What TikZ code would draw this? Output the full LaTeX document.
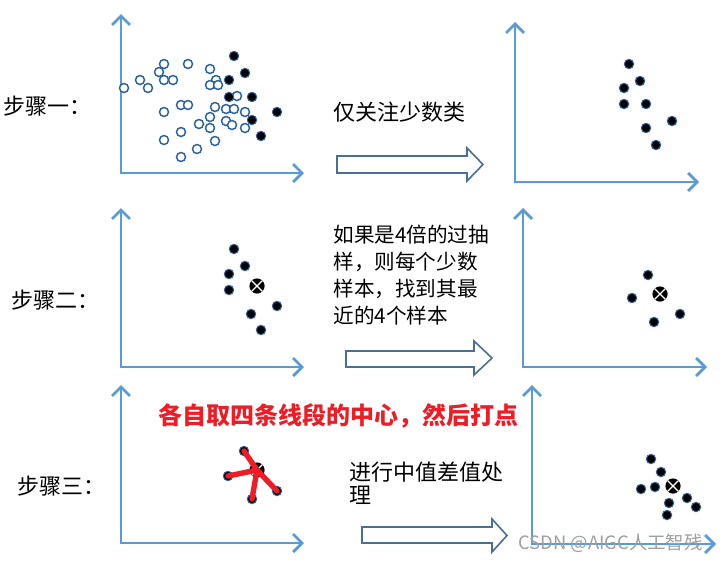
\documentclass[tikz,border=0pt]{standalone}
\usepackage{fontspec}
\setmainfont{Noto Sans CJK SC}
\usetikzlibrary{arrows.meta}
\definecolor{axisblue}{RGB}{91,155,213}
\definecolor{ringblue}{RGB}{46,100,160}
\definecolor{arrowblue}{RGB}{74,110,150}
\definecolor{redtxt}{RGB}{238,28,36}
\tikzset{
  axis/.style={draw=axisblue,line width=1.4pt,{Straight Barb[length=4.5pt,width=9pt]}-{Straight Barb[length=4.5pt,width=9pt]}},
  odot/.style={circle,draw=ringblue,fill=white,line width=0.75pt,minimum size=4.5pt,inner sep=0pt},
  fdot/.style={circle,draw=ringblue,fill=black,line width=0.5pt,minimum size=4.7pt,inner sep=0pt},
  xdot/.style={circle,fill=black,minimum size=7.6pt,inner sep=0pt,
     path picture={\draw[white,line width=0.6pt] (path picture bounding box.north west)--(path picture bounding box.south east)
       (path picture bounding box.north east)--(path picture bounding box.south west);}},
  blockarrow/.style={draw=arrowblue,fill=white,line width=0.8pt,line join=miter},
  steplbl/.style={anchor=west,font=\fontsize{11}{13}\selectfont,inner sep=0pt},
  bodytxt/.style={anchor=west,align=left,inner sep=0pt},
  redline/.style={draw=redtxt,line width=2.7pt,line cap=round},
}
\begin{document}
\begin{tikzpicture}[x=0.5pt,y=-0.5pt]
\useasboundingbox (0,0) rectangle (726,563);
% ---------------- panel 1
\coordinate (a1t) at (121,14); \coordinate (a1o) at (121,173); \coordinate (a1r) at (304,173);
\draw[axis] (a1t) -- (a1o) -- (a1r);
\foreach \x/\y [count=\i] in {124/88,140/80,148/88,159/72,164/64,164/80,173/80,188/64,210/69,216/80,210/85,218/85,237/96,181/105,188/105,164/112,215/107,226/109,234/109,245/112,210/117,199/124,226/121,232/125,210/128,245/128,181/132,164/140,215/141,197/149,181/157}
  \node[odot] (o\i) at (\x,\y) {};
\foreach \x/\y [count=\i] in {234/56,245/73,229/80,229/97,252/97,277/112,252/120,261/136}
  \node[fdot] (f\i) at (\x,\y) {};
% ---------------- panel 2
\coordinate (a2t) at (515,22); \coordinate (a2o) at (515,182); \coordinate (a2r) at (699,182);
\draw[axis] (a2t) -- (a2o) -- (a2r);
\foreach \x/\y [count=\i] in {629/64,640/81,624/88,624/104,646/104,672/121,646/128,656/145}
  \node[fdot] (g\i) at (\x,\y) {};
% ---------------- panel 3
\coordinate (a3t) at (121,208); \coordinate (a3o) at (121,367); \coordinate (a3r) at (304,367);
\draw[axis] (a3t) -- (a3o) -- (a3r);
\foreach \x/\y [count=\i] in {234/249,245/266,229/274,229/290,277/306,251/314,261/330}
  \node[fdot] (h\i) at (\x,\y) {};
\node[xdot] (hx) at (257,286) {};
% ---------------- panel 4
\coordinate (a4t) at (523,208); \coordinate (a4o) at (523,367); \coordinate (a4r) at (707,367);
\draw[axis] (a4t) -- (a4o) -- (a4r);
\foreach \x/\y [count=\i] in {648/275,632/298,680/314,654/322}
  \node[fdot] (k\i) at (\x,\y) {};
\node[xdot] (kx) at (660,294) {};
% ---------------- panel 5
\coordinate (a5t) at (121,385); \coordinate (a5o) at (121,543); \coordinate (a5r) at (304,543);
\draw[axis] (a5t) -- (a5o) -- (a5r);
\foreach \x/\y [count=\i] in {244/451,228/476,277/491,252/499}
  \node[fdot] (m\i) at (\x,\y) {};
\node[xdot] (mx) at (257,470) {};
\foreach \i in {1,...,4} \draw[redline] (m\i.center) -- (mx.center);
% ---------------- panel 6
\coordinate (a6t) at (532,385); \coordinate (a6o) at (532,544); \coordinate (a6r) at (716,544);
\draw[axis] (a6t) -- (a6o) -- (a6r);
\foreach \x/\y [count=\i] in {651/459,661/472,641/489,655/487,687/498,696/507,669/503,667/515}
  \node[fdot] (n\i) at (\x,\y) {};
\node[xdot] (nx) at (673,486) {};
% ---------------- labels
\node[steplbl] (s1) at (3,106) {步骤一：};
\node[steplbl] (s2) at (11,300) {步骤二：};
\node[steplbl] (s3) at (17,486) {步骤三：};
\node[bodytxt,font=\fontsize{11}{13}\selectfont] (t1) at (333,112) {仅关注少数类};
\node[bodytxt,font=\fontsize{10.3}{13.6}\selectfont] (t2) at (333,275) {如果是4倍的过抽\\样，则每个少数\\样本，找到其最\\近的4个样本};
\node[bodytxt,font=\fontsize{11}{11.5}\selectfont] (t3) at (349,483) {进行中值差值处\\理};
\node[bodytxt,font=\fontsize{12}{14}\selectfont\bfseries,text=redtxt] (t4) at (158,416) {各自取四条线段的中心，然后打点};
% ---------------- block arrows
\draw[blockarrow] (337,156) -- (467,156) -- (467,148) -- (483,164.5) -- (467,181) -- (467,173) -- (337,173) -- cycle;
\draw[blockarrow] (346,351) -- (474,351) -- (474,341) -- (492,358) -- (474,375) -- (474,367) -- (346,367) -- cycle;
\draw[blockarrow] (362,527) -- (492,527) -- (492,519) -- (507,535.5) -- (492,552) -- (492,543) -- (362,543) -- cycle;
% ---------------- watermark
\node[anchor=west,inner sep=0pt,text=gray!75,font=\fontsize{9.2}{10}\selectfont] (wm) at (518,543) {CSDN @AIGC人工智残};
\end{tikzpicture}
\end{document}
